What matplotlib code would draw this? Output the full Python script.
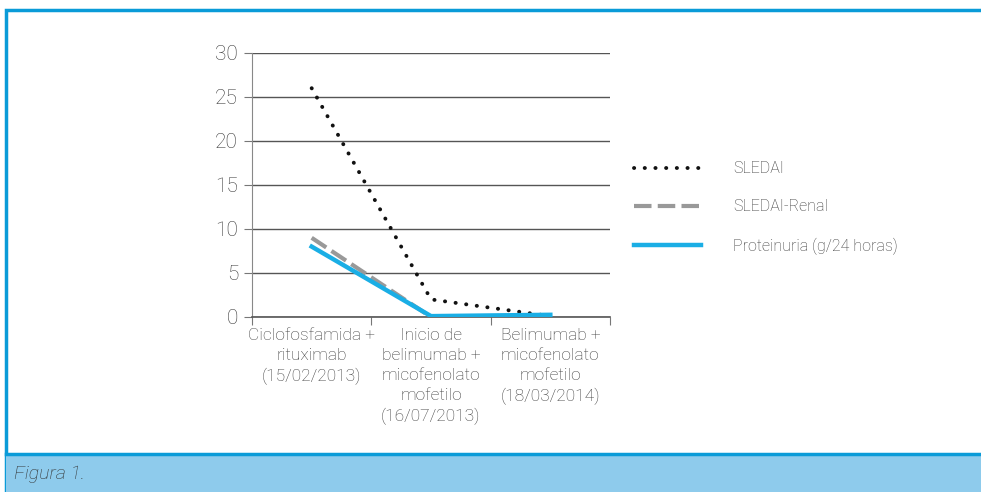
import matplotlib
matplotlib.use("Agg")
import matplotlib.pyplot as plt
from matplotlib.patches import Rectangle
from matplotlib.lines import Line2D

categories = ["Ciclofosfamida +\nrituximab\n(15/02/2013)",
              "Inicio de\nbelimumab +\nmicofenolato\nmofetilo\n(16/07/2013)",
              "Belimumab +\nmicofenolato\nmofetilo\n(18/03/2014)"]
sledai = [26, 2, 0.1]
sledai_renal = [9, 0, 0]
proteinuria = [8, 0.1, 0.25]
series_labels = ["SLEDAI", "SLEDAI-Renal", "Proteinuria (g/24 horas)"]
yticks = [0, 5, 10, 15, 20, 25, 30]
caption = "Figura 1."

plt.rcParams['font.family'] = ['Roboto', 'DejaVu Sans']
plt.rcParams['font.weight'] = 'light'
txt = '#3a3a3a'

W, H = 981, 492
fig = plt.figure(figsize=(W/100, H/100), dpi=100)

def fx(x): return x / W
def fy(y): return 1 - y / H

# frame
fig.patches.append(Rectangle((fx(6), fy(492)), fx(990-6), fy(10)-fy(492),
                             transform=fig.transFigure, facecolor='white',
                             edgecolor='#0a9bd8', linewidth=2.5, zorder=-5))
fig.patches.append(Rectangle((fx(6), fy(492)), fx(990-6), fy(454)-fy(492),
                             transform=fig.transFigure, facecolor='#8ecbec',
                             edgecolor='none', zorder=-4))
fig.lines.append(Line2D([fx(6), fx(990)], [fy(454), fy(454)], transform=fig.transFigure,
                        color='#0a9bd8', linewidth=2.5, zorder=-3))
fig.text(fx(14), fy(474), caption, fontsize=14, style='italic', color='#333333',
         va='center', ha='left')

ax = fig.add_axes([fx(252), fy(317), fx(610-252), fy(53)-fy(317)])
ax.patch.set_alpha(0)
x = list(range(len(categories)))
l1, = ax.plot(x, sledai, color='#111111', linewidth=2.8,
              linestyle=(0, (0.05, 2.7)), dash_capstyle='round', solid_capstyle='round', zorder=3)
l2, = ax.plot(x, sledai_renal, color='#999999', linewidth=3.0,
              linestyle=(0, (4.2, 1.5)), zorder=4)
l3, = ax.plot(x, proteinuria, color='#1aaee5', linewidth=3.2, zorder=5)

ax.set_xlim(-0.5, 2.5)
ax.set_ylim(0, 30)
ax.set_yticks(yticks)
ax.set_yticklabels([str(v) for v in yticks], fontsize=15, color=txt)
ax.yaxis.grid(True, color='#555555', linewidth=1.0)
ax.set_axisbelow(True)
ax.set_xticks([-0.5, 0.5, 1.5, 2.5])
ax.set_xticklabels([])
ax.set_xticks(x, minor=True)
ax.set_xticklabels(categories, minor=True, fontsize=12.5, color=txt, linespacing=1.4)
ax.tick_params(axis='x', which='minor', length=0, pad=8)
ax.tick_params(axis='x', which='major', length=6, color='#777777', direction='out')
ax.tick_params(axis='y', length=6, color='#777777', pad=4)
for s in ['top', 'right']:
    ax.spines[s].set_visible(False)
ax.spines['left'].set_color('#888888')
ax.spines['bottom'].set_color('#555555')
ax.spines['bottom'].set_linewidth(1.2)

fig.legend([l1, l2, l3], series_labels, loc='center left',
           bbox_to_anchor=(fx(620), fy(208)), frameon=False, fontsize=11.5,
           handlelength=4.2, handletextpad=2.0, labelspacing=1.45, labelcolor=txt)

fig.savefig("out.png", dpi=100)
